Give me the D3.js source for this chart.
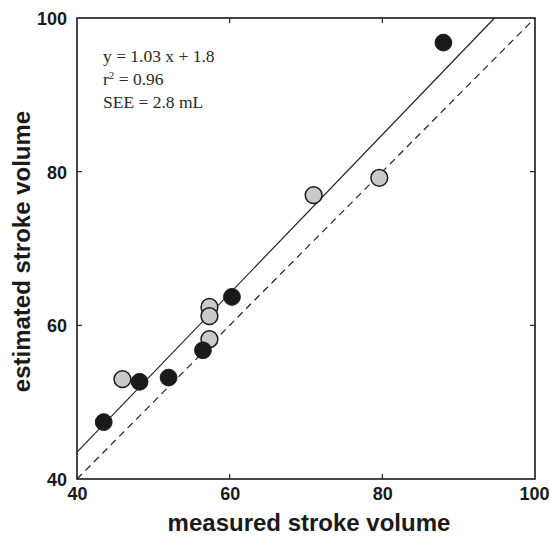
<!DOCTYPE html>
<html>
<head>
<meta charset="utf-8">
<script src="https://cdn.jsdelivr.net/npm/d3@7"></script>
<style>
  html, body { margin: 0; padding: 0; background: #fff; }
  svg { display: block; }
</style>
</head>
<body>
<svg id="chart" width="550" height="538"></svg>
<script>
// ---- data ----
const blackX = [88.0, 60.3, 56.5, 52.0, 48.2, 43.5];
const blackY = [96.8, 63.7, 56.75, 53.2, 52.65, 47.4];
const greyX = [79.6, 71.0, 57.35, 57.35, 57.35, 45.95];
const greyY = [79.2, 76.95, 62.4, 61.2, 58.2, 53.0];
const regX = [40, 94.7];
const regY = [43.5, 100];
const identX = [40, 100];
const identY = [40, 100];
const tickValues = [40, 60, 80, 100];
const annotLines = ["y = 1.03 x + 1.8", "r2 = 0.96", "SEE = 2.8 mL"];
const xTitle = "measured stroke volume";
const yTitle = "estimated stroke volume";

// ---- layout ----
const L = 77, R = 535, T = 18, B = 479;
const svg = d3.select("#chart");
const x = d3.scaleLinear().domain([40, 100]).range([L, R]);
const y = d3.scaleLinear().domain([40, 100]).range([B, T]);

const tickFont = "'Liberation Sans', Arial, sans-serif";

// lines
const line = d3.line().x(d => x(d[0])).y(d => y(d[1]));
svg.append("path")
  .attr("d", line(identX.map((v, i) => [v, identY[i]])))
  .attr("fill", "none").attr("stroke", "#222").attr("stroke-width", 1.2)
  .attr("stroke-dasharray", "7,5");
svg.append("path")
  .attr("d", line(regX.map((v, i) => [v, regY[i]])))
  .attr("fill", "none").attr("stroke", "#222").attr("stroke-width", 1.2);

// axes (labels only; ticks drawn inward separately)
const inner = [60, 80];
const axB = svg.append("g").attr("transform", `translate(0,${B})`)
  .call(d3.axisBottom(x).tickValues(tickValues).tickSize(0).tickPadding(8));
const axL = svg.append("g").attr("transform", `translate(${L},0)`)
  .call(d3.axisLeft(y).tickValues(tickValues).tickSize(0).tickPadding(10));
[axB, axL].forEach(a => {
  a.select(".domain").remove();
  a.selectAll("text").attr("font-family", tickFont).attr("font-weight", "bold")
    .attr("font-size", 18).attr("fill", "#1a1a1a");
});
axB.selectAll("text").attr("dy", "0.71em");
axB.selectAll("text").filter(d => d === 100).attr("dx", -1);
axL.selectAll("text").attr("dy", "0.36em");

// inward tick marks on all four sides
const tk = svg.append("g").attr("stroke", "#222").attr("stroke-width", 1.2);
inner.forEach(v => {
  tk.append("line").attr("x1", x(v)).attr("x2", x(v)).attr("y1", B).attr("y2", B - 5);
  tk.append("line").attr("x1", x(v)).attr("x2", x(v)).attr("y1", T).attr("y2", T + 5);
  tk.append("line").attr("y1", y(v)).attr("y2", y(v)).attr("x1", L).attr("x2", L + 5);
  tk.append("line").attr("y1", y(v)).attr("y2", y(v)).attr("x1", R).attr("x2", R - 5);
});

// frame
svg.append("rect").attr("x", L).attr("y", T).attr("width", R - L).attr("height", B - T)
  .attr("fill", "none").attr("stroke", "#1a1a1a").attr("stroke-width", 1.6);

// points
const r = 8.4;
svg.append("g").selectAll("circle").data(greyX.map((v, i) => [v, greyY[i]])).join("circle")
  .attr("cx", d => x(d[0])).attr("cy", d => y(d[1])).attr("r", r)
  .attr("fill", "#c9cacc").attr("stroke", "#1a1a1a").attr("stroke-width", 1.5);
svg.append("g").selectAll("circle").data(blackX.map((v, i) => [v, blackY[i]])).join("circle")
  .attr("cx", d => x(d[0])).attr("cy", d => y(d[1])).attr("r", r)
  .attr("fill", "#1a1a1a").attr("stroke", "#1a1a1a").attr("stroke-width", 1);

// annotation
const ann = svg.append("g").attr("font-family", "'Liberation Serif', 'Times New Roman', serif")
  .attr("font-size", 17.5).attr("fill", "#2a2a2a");
ann.append("text").attr("x", 103).attr("y", 62).text(annotLines[0]);
const t2 = ann.append("text").attr("x", 103).attr("y", 85);
t2.append("tspan").text("r");
t2.append("tspan").attr("font-size", 11).attr("dy", -6).text("2");
t2.append("tspan").attr("dy", 6).text(" = 0.96");
ann.append("text").attr("x", 103).attr("y", 108).text(annotLines[2]);

// axis titles
svg.append("text").attr("x", (L + R) / 2 + 3).attr("y", 531).attr("text-anchor", "middle")
  .attr("font-family", tickFont).attr("font-weight", "bold").attr("font-size", 24)
  .attr("fill", "#1a1a1a").text(xTitle);
svg.append("text").attr("transform", `translate(30,${(T + B) / 2 + 3}) rotate(-90)`)
  .attr("text-anchor", "middle")
  .attr("font-family", tickFont).attr("font-weight", "bold").attr("font-size", 24)
  .attr("fill", "#1a1a1a").text(yTitle);
</script>
</body>
</html>
